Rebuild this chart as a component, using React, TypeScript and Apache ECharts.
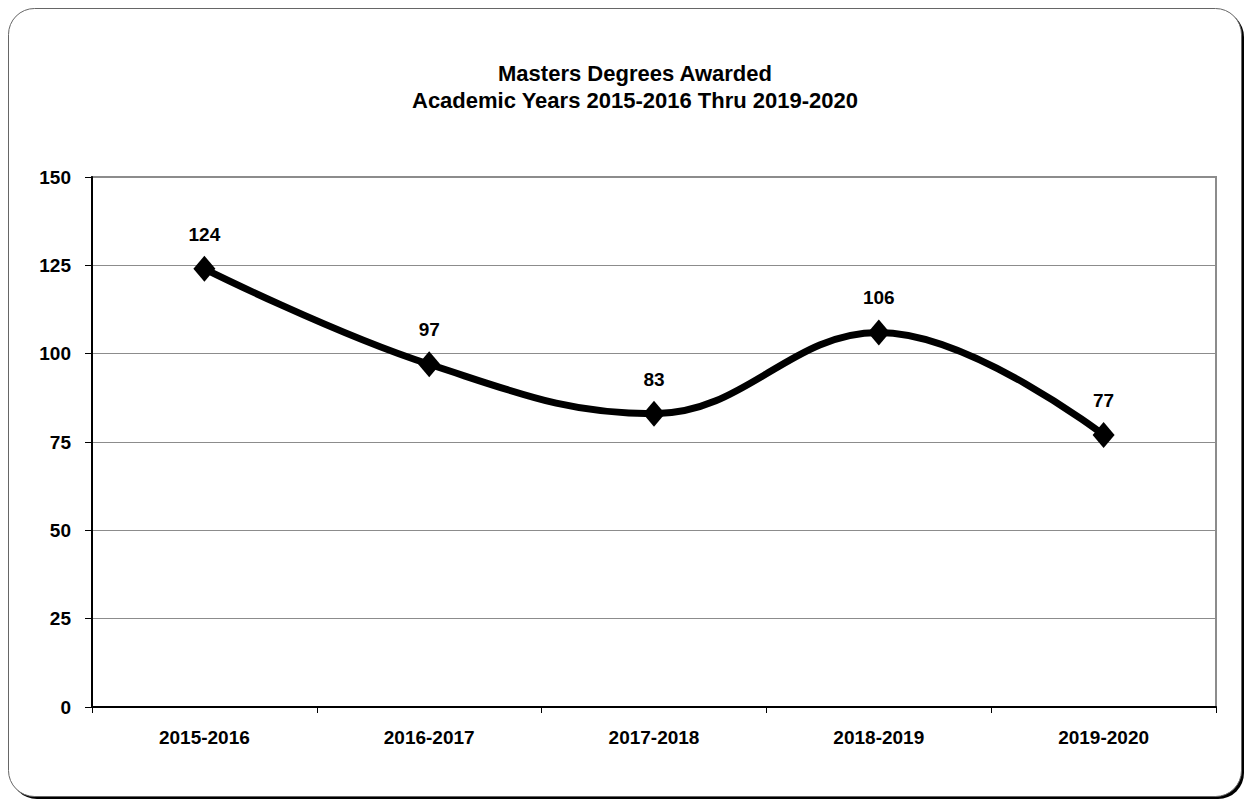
import React, { useEffect, useRef } from "react";
import * as echarts from "echarts";

const categories = ["2015-2016", "2016-2017", "2017-2018", "2018-2019", "2019-2020"];
const degrees = [124, 97, 83, 106, 77];
const titleLines = ["Masters Degrees Awarded", "Academic Years 2015-2016 Thru 2019-2020"];

const FONT = "'Liberation Sans Narrow', 'Arial Narrow', 'Liberation Sans', sans-serif";

export default function App() {
  const ref = useRef<HTMLDivElement>(null);
  useEffect(() => {
    if (!ref.current) return;
    const chart = echarts.init(ref.current, null, { renderer: "svg" });
    chart.setOption({
      animation: false,
      backgroundColor: "#ffffff",
      graphic: [
        { type: "rect", z: -10, shape: { x: 11, y: 11, width: 1233, height: 788, r: 26 }, style: { fill: "#000" }, silent: true },
        { type: "rect", z: -9, shape: { x: 8.5, y: 8.5, width: 1233, height: 788, r: 26 }, style: { fill: "#fff", stroke: "#666", lineWidth: 1 }, silent: true },
        {
          type: "rect", z: -5,
          shape: { x: 92, y: 177, width: 1124, height: 530 },
          style: { fill: "none", stroke: "#8c8c8c", lineWidth: 2 }, silent: true,
        },
      ],
      title: {
        text: titleLines.join("\n"),
        left: 630,
        top: 55,
        textAlign: "center",
        textStyle: { fontFamily: FONT, fontSize: 22, fontWeight: "bold", color: "#000", lineHeight: 27 },
      },
      grid: { left: 92, top: 177, right: 30, bottom: 95, containLabel: false },
      xAxis: {
        type: "category",
        data: categories,
        boundaryGap: true,
        axisLine: { show: true, lineStyle: { color: "#000", width: 2 } },
        axisTick: { show: true, length: 6, lineStyle: { color: "#000" } },
        axisLabel: { margin: 21, fontFamily: FONT, fontSize: 19, fontWeight: "bold", color: "#000" },
        splitLine: { show: false },
      },
      yAxis: {
        type: "value",
        min: 0,
        max: 150,
        interval: 25,
        axisLine: { show: true, lineStyle: { color: "#000", width: 2 } },
        axisTick: { show: true, length: 7, lineStyle: { color: "#000" } },
        axisLabel: { margin: 21, fontFamily: FONT, fontSize: 19, fontWeight: "bold", color: "#000" },
        splitLine: { show: true, lineStyle: { color: "#8c8c8c", width: 1 } },
      },
      series: [
        {
          type: "line",
          data: degrees,
          smooth: 0.4,
          symbol: "diamond",
          symbolSize: [22, 26],
          lineStyle: { color: "#000", width: 7 },
          itemStyle: { color: "#000" },
          label: {
            show: true,
            position: "top",
            distance: 12,
            fontFamily: FONT,
            fontSize: 19,
            fontWeight: "bold",
            color: "#000",
          },
        },
      ],
    });
    return () => chart.dispose();
  }, []);
  return <div ref={ref} style={{ position: "fixed", left: 0, top: 0, width: 1246, height: 802 }} />;
}
